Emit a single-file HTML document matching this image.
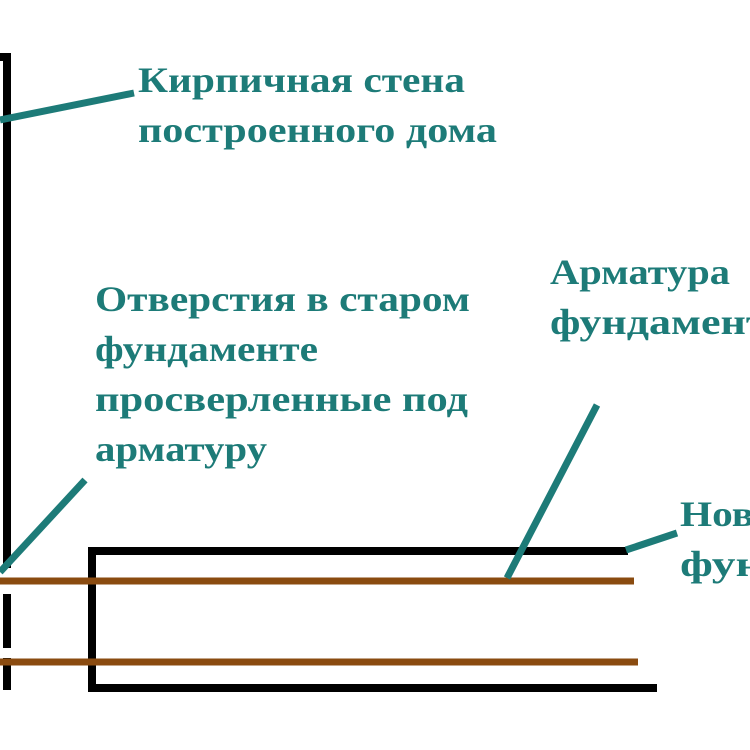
<!DOCTYPE html>
<html><head><meta charset="utf-8"><style>
html,body{margin:0;padding:0;background:#fff;}
svg{display:block}
text{font-family:"Liberation Serif","DejaVu Serif",serif;font-weight:bold;fill:#1d7b78;font-size:36px;}
</style></head><body>
<svg width="750" height="750" viewBox="0 0 750 750">
<g stroke="#000" stroke-width="8" fill="none">
<path d="M0 57 H7 V568"/>
<path d="M7 594 V648"/>
<path d="M7 658 V690"/>
<path d="M628 551 H92 V688 H657"/>
</g>
<g stroke="#8a4b10" stroke-width="7">
<line x1="0" y1="581" x2="634" y2="581"/>
<line x1="0" y1="662" x2="638" y2="662"/>
</g>
<g stroke="#1d7b78" stroke-width="7">
<line x1="0" y1="120" x2="134" y2="93"/>
<line x1="0" y1="572" x2="85" y2="480"/>
<line x1="507" y1="578" x2="597" y2="405"/>
<line x1="626" y1="550" x2="677" y2="533"/>
</g>
<text x="138" y="92" textLength="327" lengthAdjust="spacingAndGlyphs">Кирпичная стена</text>
<text x="138" y="142" textLength="359" lengthAdjust="spacingAndGlyphs">построенного дома</text>
<text x="95" y="311" textLength="375" lengthAdjust="spacingAndGlyphs">Отверстия в старом</text>
<text x="95" y="361" textLength="223" lengthAdjust="spacingAndGlyphs">фундаменте</text>
<text x="95" y="411" textLength="373" lengthAdjust="spacingAndGlyphs">просверленные под</text>
<text x="95" y="461" textLength="172" lengthAdjust="spacingAndGlyphs">арматуру</text>
<text x="550" y="284" textLength="180" lengthAdjust="spacingAndGlyphs">Арматура</text>
<text x="550" y="334" textLength="240" lengthAdjust="spacingAndGlyphs">фундамента</text>
<text x="680" y="526" textLength="130" lengthAdjust="spacingAndGlyphs">Новый</text>
<text x="680" y="576" textLength="235" lengthAdjust="spacingAndGlyphs">фундамент</text>
</svg>
</body></html>
